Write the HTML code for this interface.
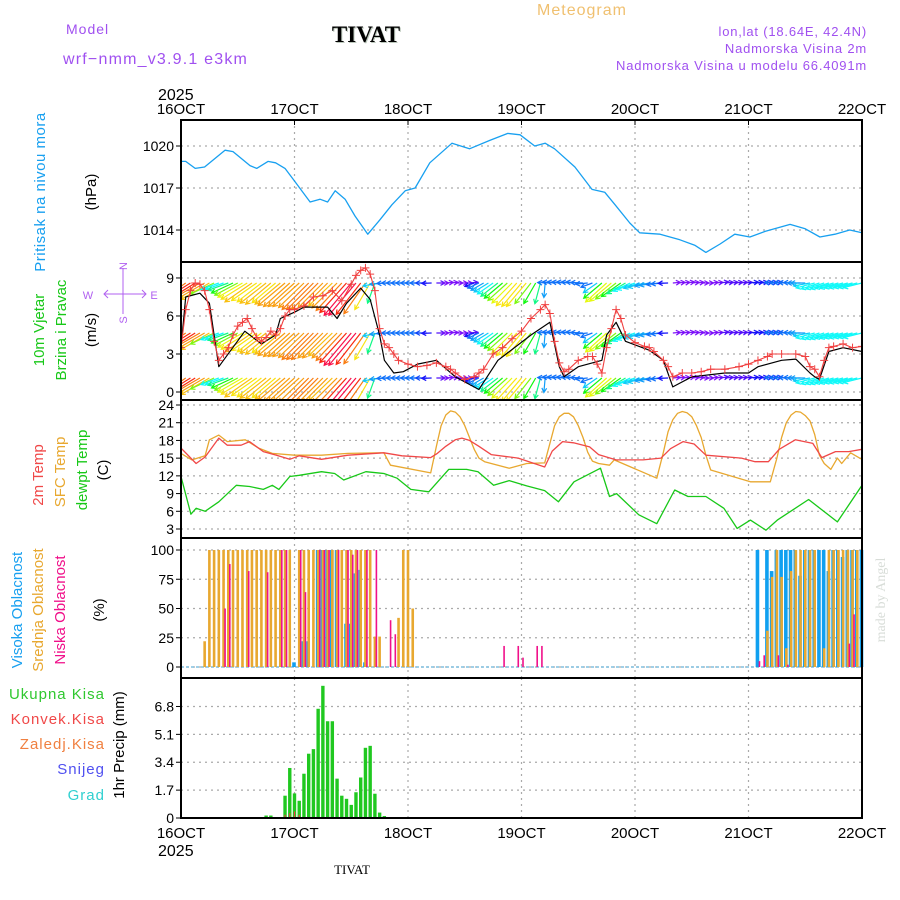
<!DOCTYPE html>
<html><head><meta charset="utf-8">
<style>
html,body{margin:0;padding:0;background:#fff;}
svg{display:block;}
text{font-family:"Liberation Sans",sans-serif;}
</style></head>
<body>
<svg id="chart" xmlns="http://www.w3.org/2000/svg" width="900" height="900" viewBox="0 0 900 900">
  <rect x="0" y="0" width="900" height="900" fill="#fff"/>
  <text x="582" y="15" font-size="16" fill="#f0c070" text-anchor="middle" letter-spacing="1">Meteogram</text>
  <text x="66" y="34" font-size="14" fill="#a050f0" letter-spacing="1">Model</text>
  <text x="63" y="64" font-size="16" fill="#a050f0" letter-spacing="1.2">wrf−nmm_v3.9.1 e3km</text>
  <text x="367" y="43" font-size="23" font-weight="bold" fill="#bcc8bc" text-anchor="middle" style="font-family:'Liberation Serif',serif">TIVAT</text>
  <text x="366" y="42" font-size="23" font-weight="bold" fill="#000" text-anchor="middle" style="font-family:'Liberation Serif',serif">TIVAT</text>
  <text x="867" y="36" font-size="13" fill="#a050f0" text-anchor="end" letter-spacing="0.8">lon,lat (18.64E, 42.4N)</text>
  <text x="867" y="53" font-size="13" fill="#a050f0" text-anchor="end" letter-spacing="0.8">Nadmorska Visina 2m</text>
  <text x="867" y="70" font-size="13" fill="#a050f0" text-anchor="end" letter-spacing="0.8">Nadmorska Visina u modelu 66.4091m</text>
  <text x="158" y="100" font-size="16" fill="#000">2025</text>
  <text x="158" y="856" font-size="16" fill="#000">2025</text>
  <text x="352" y="874" font-size="13" fill="#000" text-anchor="middle" style="font-family:'Liberation Serif',serif">TIVAT</text>
  <text transform="translate(885,600) rotate(-90)" font-size="14" fill="#d8ddd8" text-anchor="middle" style="font-family:'Liberation Serif',serif">made by Angel</text>

  <text transform="translate(45,192) rotate(-90)" font-size="15" fill="#18a0f0" text-anchor="middle" letter-spacing="0.5">Pritisak na nivou mora</text>
  <text transform="translate(96,192) rotate(-90)" font-size="15" fill="#000" text-anchor="middle">(hPa)</text>
  <text transform="translate(44,330) rotate(-90)" font-size="15" fill="#18c818" text-anchor="middle">10m Vjetar</text>
  <text transform="translate(66,330) rotate(-90)" font-size="15" fill="#18c818" text-anchor="middle">Brzina i Pravac</text>
  <text transform="translate(96,330) rotate(-90)" font-size="15" fill="#000" text-anchor="middle">(m/s)</text>
  <g stroke="#b060f0" fill="none" stroke-width="1">
    <line x1="104" y1="294" x2="146" y2="294"/>
    <line x1="123" y1="268" x2="123" y2="314"/>
    <polyline points="108,290 104,294 108,298"/>
    <polyline points="142,290 146,294 142,298"/>
  </g>
  <text x="88" y="299" font-size="11" fill="#b060f0" text-anchor="middle">W</text>
  <text x="154" y="299" font-size="11" fill="#b060f0" text-anchor="middle">E</text>
  <text transform="translate(127,266) rotate(-90)" font-size="11" fill="#b060f0" text-anchor="middle">N</text>
  <text transform="translate(127,320) rotate(-90)" font-size="11" fill="#b060f0" text-anchor="middle">S</text>
  <text transform="translate(43,475) rotate(-90)" font-size="15" fill="#f04848" text-anchor="middle">2m Temp</text>
  <text transform="translate(65,472) rotate(-90)" font-size="15" fill="#e8a830" text-anchor="middle">SFC Temp</text>
  <text transform="translate(87,470) rotate(-90)" font-size="15" fill="#18c818" text-anchor="middle">dewpt Temp</text>
  <text transform="translate(108,470) rotate(-90)" font-size="15" fill="#000" text-anchor="middle">(C)</text>
  <text transform="translate(22,610) rotate(-90)" font-size="15" fill="#18a0f0" text-anchor="middle">Visoka Oblacnost</text>
  <text transform="translate(43,610) rotate(-90)" font-size="15" fill="#e8a830" text-anchor="middle">Srednja Oblacnost</text>
  <text transform="translate(65,610) rotate(-90)" font-size="15" fill="#f0108a" text-anchor="middle">Niska Oblacnost</text>
  <text transform="translate(104,610) rotate(-90)" font-size="15" fill="#000" text-anchor="middle">(%)</text>
  <text x="105" y="699" font-size="15" fill="#30c830" text-anchor="end" letter-spacing="1">Ukupna Kisa</text>
  <text x="105" y="724" font-size="15" fill="#f04848" text-anchor="end" letter-spacing="1">Konvek.Kisa</text>
  <text x="105" y="749" font-size="15" fill="#f08040" text-anchor="end" letter-spacing="1">Zaledj.Kisa</text>
  <text x="105" y="774" font-size="15" fill="#5050f0" text-anchor="end" letter-spacing="1">Snijeg</text>
  <text x="105" y="800" font-size="15" fill="#30d0d0" text-anchor="end" letter-spacing="1">Grad</text>
  <text transform="translate(124,745) rotate(-90)" font-size="15" fill="#000" text-anchor="middle">1hr Precip (mm)</text>
</svg>
<script>
// ---------- DATA ----------
const dayLabels = ["16OCT","17OCT","18OCT","19OCT","20OCT","21OCT","22OCT"];
const pressTicks = [1014,1017,1020];
const windTicks = [0,3,6,9];
const tempTicks = [3,6,9,12,15,18,21,24];
const cloudTicks = [0,25,50,75,100];
const precipTicks = [0,1.7,3.4,5.1,6.8];

const pressHours = [0,1,3,5,9.3,11,14.6,16,18.4,20,22,24,27.3,29.4,31,32.6,34.7,36.8,39.5,42,44.6,47.4,49.5,52.6,57.3,61,65.3,69.1,71.7,74.8,77,79,83.3,86.9,89.6,91.8,94.9,97,101.3,105.5,108.7,111,114,117.1,120.3,123.5,128.8,131.9,135.1,138.3,141.4,144];
const pressValues = [1018.9,1018.9,1018.4,1018.5,1019.7,1019.6,1018.6,1018.4,1018.9,1018.8,1018.4,1017.5,1016.0,1016.2,1016.0,1016.8,1016.2,1015.0,1013.7,1014.7,1015.8,1016.8,1017.0,1018.8,1020.2,1019.8,1020.4,1020.9,1020.8,1020.0,1020.2,1019.8,1018.5,1016.9,1016.7,1015.8,1014.5,1013.8,1013.7,1013.3,1012.9,1012.4,1013.0,1013.7,1013.5,1013.9,1014.4,1014.1,1013.5,1013.7,1014.0,1013.8];

const speedHours = [0,1,4,6,8,13.5,17,20,21,24,26,31,33,35,38,40,42,43,45,47,50,54,58,63,67,74,78,80,81,84,89,90,92,94,99,102,104,108,115,120,122,127,130,133,134,135,137,140,144];
const speedValues = [3.5,7.5,7.8,7.0,2.0,4.8,3.8,4.5,5.8,6.3,6.7,6.7,5.8,7.0,8.2,7.3,4.5,2.5,1.5,1.6,2.2,2.5,1.2,0.2,2.5,4.5,5.5,2.0,1.2,2.0,2.5,4.5,5.5,4.0,3.3,2.5,0.4,1.2,1.5,1.5,2.0,2.5,2.6,1.5,1.2,1.0,3.2,3.5,3.2];

const gustHours = [0,1,2,3,4,5,6,7,8,9,10,11,12,13,14,15,16,17,18,19,20,21,22,23,24,26,28,30,32,34,36,37,38,39,40,41,42,43,44,45,46,48,50,52,54,56,57,58,60,62,63,64,66,68,70,72,74,76,77,78,79,80,81,82,84,86,87,88,89,90,91,92,93,94,96,98,99,100,102,103,104,106,108,110,112,115,118,120,122,124,125,127,130,132,133,134,135,136,137,138,140,142,144];
const gustValues = [3.5,6.5,8.0,8.6,8.5,8.0,6.5,4.0,2.5,3.0,3.5,4.5,5.2,5.5,5.8,5.0,4.3,4.0,4.3,4.8,4.5,5.0,6.0,6.5,6.5,6.8,7.5,7.6,8.0,7.2,8.5,9.2,9.6,9.8,9.3,8.0,5.0,3.8,3.5,3.0,2.5,2.2,2.0,2.1,2.3,2.0,1.8,1.5,1.0,1.2,1.5,1.8,3.0,3.5,4.2,4.8,5.8,6.5,6.9,6.2,4.0,2.3,1.6,1.8,2.5,2.8,2.8,2.2,1.5,3.5,5.0,6.5,5.8,4.5,3.9,3.6,3.5,3.2,2.5,2.0,1.2,1.5,1.5,1.6,1.8,1.8,2.0,2.2,2.5,2.8,3.0,3.0,3.0,2.8,2.0,1.8,1.2,2.5,3.5,3.6,3.8,3.5,3.6];

// hourly wind arrows (h0..h144)
const arrowSpeed = [
 6.5,7.5,8,8,7.5,7,6.5,5,3.5,3.5,4,4.5,5,5.5,6,6.5,6,6,6.5,6.5,6,6.5,7,7,
 7,7,7,7.5,7.5,7.5,7,7,6.5,7,7.5,8,8.5,8.5,8,7.5,6,4,3,2.5,2,2,2,2,
 2,2,2,2,1.8,1.5,1.2,1,1,1,1,1,1,1.2,1.5,2,2.5,3,3.5,4,4.5,5,5.5,6,
 6,6,5,4.5,4,2.5,2,2,2,2,2,2,2,2,2,2,3,4.5,5.5,5.5,5,4.5,4,3.5,
 3.5,3,3,2.5,2.5,2,2,1.5,1,1,1,1,1,1,1,1,1,1,1.2,1.2,1.2,1.2,1.2,1.2,
 1.5,1.5,1.5,1.5,1.5,1.5,2,2,2,2,2,2.2,2.5,3,3.5,3.5,3.5,3.5,3.5,3.5,3.5,3.5,3.5,3.5,3.5];
const arrowDir = [
 215,215,212,212,210,210,210,205,200,200,200,205,208,210,212,215,215,218,218,220,220,220,220,222,
 222,222,224,225,225,225,225,225,224,225,227,228,230,230,232,235,240,250,190,185,182,180,180,180,
 180,180,180,180,180,182,0,0,5,5,0,0,0,5,200,205,210,212,215,218,220,222,225,228,
 230,230,232,240,255,265,178,175,175,175,175,175,175,178,185,200,215,220,222,220,218,215,210,205,
 200,198,195,192,190,188,185,182,5,5,5,8,5,5,0,0,5,5,8,5,5,5,5,5,
 5,5,5,5,5,5,178,178,178,178,178,180,180,190,195,198,198,198,196,196,195,195,194,194,194];

const t2Hours = [0,3.2,5.1,8,9.8,12.7,14.5,17.4,20.2,23,25,29.7,35.3,42.9,46.7,52.8,54.2,56,58,59.4,61,63,65.6,71.3,76.9,78.5,80.7,83,86.4,88.3,92,97.7,101.5,103.5,106.2,108.5,111,118.5,121.4,124.2,126.5,129.9,133.6,135.5,138.4,141.2,144];
const t2Values = [16.7,14.1,15.2,18.4,17.2,17.2,17.8,16.1,15.5,14.8,15.4,14.8,15.5,15.9,15.4,15.1,15.8,17.0,18.1,18.4,18.0,17.0,15.6,15.0,13.5,16.2,17.8,17.6,16.9,15.6,14.7,14.7,15.0,16.6,17.8,17.4,15.5,15.0,14.4,14.4,16.5,18.1,17.5,15.1,16.1,16.1,16.5];
const sfcHours = [0,2.3,5.1,6,8,9.8,13.6,16.4,19.3,24,29.7,35.3,42.9,44.3,52.8,54,55,56,57,58,59,60,61,62,63,64.2,69.4,73.1,76.9,78,79,80,81,82,83,84,85,86,87,88.3,90.6,91.6,100.6,102,103,104,105,106,107,108,109,110,111,112,120.4,124.6,126,127,128,129,130,131,132,133,134,135,136,137.4,138.8,139.7,141.6,143.5,144];
const sfcValues = [15.8,14.7,15.4,18.1,18.9,17.8,18.1,16.7,15.8,15.5,15.5,15.8,15.9,13.8,12.5,17,20.5,22.3,23,22.8,22,20.5,18.5,16.5,15,14.4,13.3,14.1,14.2,17.5,20.5,22,22.6,22.6,22,20.5,18.5,16,14.5,14.1,13.8,14.7,11.6,16,19.5,21.5,22.6,22.9,22.7,22,20.5,18.5,15.5,13,11.0,11.0,15,18.5,21,22.3,22.9,22.8,22.2,21.3,19,15.5,14.1,13.1,15.0,14.1,15.9,15.0,14.8];
const dewHours = [0,2.1,3.2,5.1,8,11.7,14.5,17.4,19.3,20.7,23,25,29.7,32.5,34.4,39.1,42.9,45.7,48.6,52.4,56.6,60.4,62.8,66.1,69.4,73.1,76.9,79.8,83.1,88.7,90.6,92.1,96.8,100.6,104.4,107.2,111,114.8,117.6,120.4,123.7,126.1,132.7,138.8,144];
const dewValues = [11.9,5.5,6.5,6.0,7.6,10.4,10.2,9.7,10.4,9.7,11.9,12.1,12.7,12.4,11.3,12.7,12.4,11.6,9.7,9.3,13.1,13.1,12.7,10.4,11.2,10.3,9.5,7.6,11.0,13.3,8.5,9.0,5.4,3.9,9.6,8.5,8.5,6.5,3.1,4.5,2.8,4.5,8.0,4.2,10.4];

const midCloudHours = [5,6,7,8,9,10,11,12,13,14,15,16,17,18,19,20,21,22,23,25,26,27,28,29,30,31,32,33,34,35,36,37,38,39,40,41,42,46,47,48,49,124,125,126,127,128,129,130,131,132,133,134,136,137,138,139,140,141,142,143];
const midCloudValues = [22,100,100,100,100,100,100,100,100,100,100,100,100,100,100,100,100,100,100,100,100,100,100,100,100,100,100,100,100,100,100,100,100,100,100,26,26,42,100,100,50,31,77,100,77,16,82,100,100,100,100,100,16,100,100,100,100,100,100,100];
const lowCloudHours = [9,10,14,18,21,22,25,26,29,30,31,33,35,36,37,39,41,44,45,68,71,72,75,76,122,123,126,128,141,142];
const lowCloudValues = [50,88,82,81,100,100,100,64,100,100,100,100,100,96,100,100,100,40,28,18,18,8,18,18,5,10,10,2,20,45];
const highCloudHours = [24,26,27,29,30,31,32,33,35,36,37,38,39,122,124,125,126,127,128,129,130,131,132,133,134,135,136,137,138,139,140,141,142,143,144];
const highCloudValues = [4,22,22,100,100,100,100,100,37,37,80,83,4,100,100,82,100,100,100,100,100,78,100,100,100,100,100,82,100,100,94,100,100,100,100];

const rainHours = [18,19,22,23,24,25,26,27,28,29,30,31,32,33,34,35,36,37,38,39,40,41,42,43];
const rainValues = [0.15,0.15,1.36,3.05,1.5,1.05,2.7,3.92,4.2,6.66,8.06,5.9,5.9,2.4,1.36,1.17,0.8,1.57,2.47,4.28,4.4,1.48,0.33,0.12];
const convHours = [22,23,24,25];
const convValues = [0.2,0.3,0.4,0.2];

// ---------- SCALES ----------
const svg = document.getElementById('chart');
const NS = 'http://www.w3.org/2000/svg';
const X0 = 181, X1 = 862;
const xH = h => X0 + h * (X1 - X0) / 144;
const yP = p => 146 + (1020 - p) * 14;
const yW = s => 392 - s * 12.67;
const yT = t => 405 + (24 - t) * 5.905;
const yC = c => 667 - c * 1.17;
const yR = r => 818 - r * 16.4;
const panels = [[120,262],[262,400],[400,538],[538,678],[678,818]];

function mk(tag, attrs, parent) {
  const e = document.createElementNS(NS, tag);
  for (const k in attrs) e.setAttribute(k, attrs[k]);
  (parent || svg).appendChild(e);
  return e;
}
function clip(id, top, bot) {
  const cp = mk('clipPath', {id: id});
  mk('rect', {x: X0, y: top, width: X1 - X0, height: bot - top}, cp);
}
panels.forEach((p, i) => clip('clip' + i, p[0], p[1]));

panels.forEach((p, i) => {
  for (let d = 1; d < 6; d++) {
    const gl = mk('line', {x1: xH(d*24), x2: xH(d*24), y1: p[0], y2: p[1], stroke: '#aaa', 'stroke-width': 1.2, 'stroke-dasharray': '2,4'});
    
    
  }
});
function yAxis(ticks, yf) {
  ticks.forEach(t => {
    const y = yf(t);
    const gl = mk('line', {x1: X0, x2: X1, y1: y, y2: y, stroke: '#aaa', 'stroke-width': 1.2, 'stroke-dasharray': '2,4'});
    
    
    const tk = mk('line', {x1: X0 - 5, x2: X0, y1: y, y2: y, stroke: '#000', 'stroke-width': 1});
    
    
    const tx = mk('text', {x: X0 - 7, y: y + 5, 'font-size': 14, 'text-anchor': 'end', fill: '#000'});
    tx.textContent = String(t);
    
    
  });
}
yAxis(pressTicks, yP);
yAxis(windTicks, yW);
yAxis(tempTicks, yT);
yAxis(cloudTicks, yC);
yAxis(precipTicks, yR);

dayLabels.forEach((lab, i) => {
  const x = xH(i * 24);
  const t1 = mk('text', {x: x, y: 114, 'font-size': 15, 'text-anchor': 'middle', fill: '#000'});
  t1.textContent = lab;
  
  
  const t2 = mk('text', {x: x, y: 838, 'font-size': 15, 'text-anchor': 'middle', fill: '#000'});
  t2.textContent = lab;
  
  
  const k1 = mk('line', {x1: x, x2: x, y1: 120, y2: 125, stroke: '#000'});
  
  
});

function line(hours, vals, yf, color, cid, name, w) {
  const pts = hours.map((h, i) => xH(h).toFixed(1) + ',' + yf(vals[i]).toFixed(1)).join(' ');
  const pl = mk('polyline', {points: pts, fill: 'none', stroke: color, 'stroke-width': w || 1.3, 'clip-path': 'url(#' + cid + ')', 'stroke-linejoin': 'round'});
  
  
}

line(pressHours, pressValues, yP, '#18a0f0', 'clip0', 'pressure-line');

// wind arrows
const rowBase = [283, 333, 378];
const hueStops = [[0,280],[1,268],[2,215],[3.5,180],[4.5,120],[5.5,65],[6.5,45],[7.5,28],[8.5,345]];
function windColor(s) {
  let h = hueStops[hueStops.length-1][1];
  for (let i = 0; i < hueStops.length - 1; i++) {
    const a = hueStops[i], b = hueStops[i+1];
    if (s >= a[0] && s <= b[0]) {
      let hb = b[1]; if (hb > a[1] + 180) hb -= 360;
      h = a[1] + (hb - a[1]) * (s - a[0]) / (b[0] - a[0]);
      break;
    }
  }
  return 'hsl(' + ((h + 360) % 360) + ',95%,52%)';
}
const wg = mk('g', {'clip-path': 'url(#clip1)'});


rowBase.forEach(by => {
  arrowSpeed.forEach((s, h) => {
    const a = arrowDir[h] * Math.PI / 180;
    const x1 = xH(h), y1 = by, L = s * 4.6 + 3;
    const x2 = x1 + L * Math.cos(a), y2 = y1 - L * Math.sin(a);
    const c = windColor(s);
    const ar = mk('path', {d: 'M' + x1 + ',' + y1 + 'L' + x2 + ',' + y2 +
      'M' + (x2 - 5*Math.cos(a - 0.5)) + ',' + (y2 + 5*Math.sin(a - 0.5)) + 'L' + x2 + ',' + y2 +
      'L' + (x2 - 5*Math.cos(a + 0.5)) + ',' + (y2 + 5*Math.sin(a + 0.5)),
      stroke: c, 'stroke-width': 1.2, fill: 'none'}, wg);
    
    
  });
});
line(speedHours, speedValues, yW, '#000', 'clip1', 'wind-speed-line', 1.2);
line(gustHours, gustValues, yW, '#f04040', 'clip1', 'wind-gust-line', 1.1);
const gg = mk('g', {'clip-path': 'url(#clip1)', stroke: '#f04040', 'stroke-width': 1});


gustHours.forEach((h, i) => {
  const x = xH(h), y = yW(gustValues[i]);
  const m = mk('path', {d: 'M' + (x-4) + ',' + y + 'H' + (x+4) + 'M' + x + ',' + (y-4) + 'V' + (y+4)}, gg);
  
  
});

line(sfcHours, sfcValues, yT, '#e8a830', 'clip2', 'sfc-temp-line');
line(t2Hours, t2Values, yT, '#f04848', 'clip2', 'temp-2m-line');
line(dewHours, dewValues, yT, '#18c818', 'clip2', 'dewpoint-line');

const bl = mk('line', {x1: X0, x2: X1, y1: yC(0), y2: yC(0), stroke: '#80c0e0', 'stroke-width': 1.5, 'stroke-dasharray': '3,2'});


function bars(hours, vals, yf, color, w, name, off) {
  hours.forEach((h, i) => {
    const y = yf(vals[i]), y0 = yf(0);
    const r = mk('rect', {x: xH(h) - w/2 + (off||0), y: y, width: w, height: Math.max(0.5, y0 - y), fill: color});
    
    
  });
}
bars(highCloudHours, highCloudValues, yC, '#10a0f0', 3.6, 'high-cloud-bar', -0.5);
bars(midCloudHours, midCloudValues, yC, '#e8a830', 2.6, 'mid-cloud-bar', 0);
bars(lowCloudHours, lowCloudValues, yC, '#f0108a', 1.6, 'low-cloud-bar', 1.5);

bars(rainHours, rainValues, yR, '#20c820', 3.4, 'rain-bar', 0);
bars(convHours, convValues, yR, '#f04040', 1.2, 'convective-rain-bar', 0);

panels.forEach((p, i) => {
  const fr = mk('rect', {x: X0, y: p[0], width: X1 - X0, height: p[1] - p[0], fill: 'none', stroke: '#000', 'stroke-width': 2});
  
  
});
</script>
</body></html>
